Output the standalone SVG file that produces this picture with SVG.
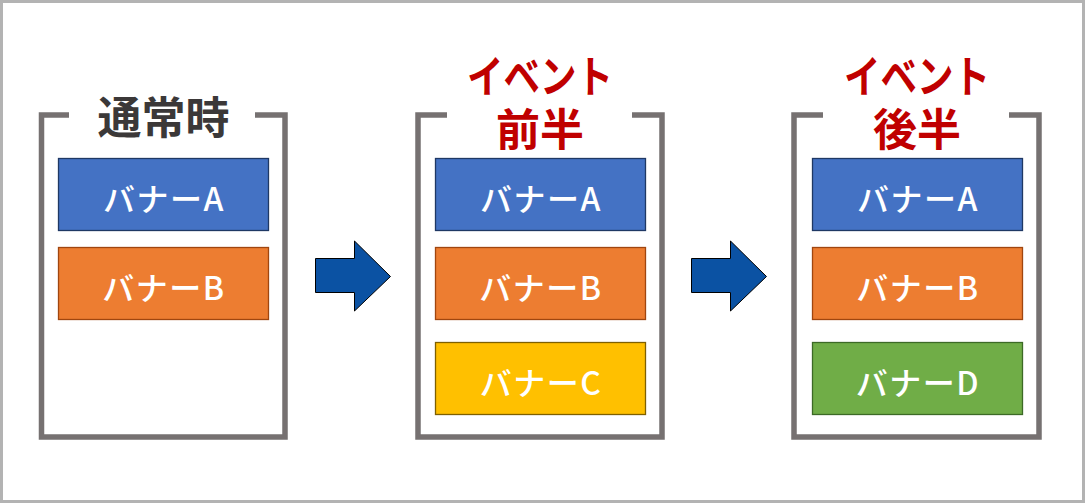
<svg xmlns="http://www.w3.org/2000/svg" width="1085" height="503" viewBox="0 0 1085 503">
<defs>
<style>
.frame{fill:#ffffff;stroke:#b3b3b3;stroke-width:3}
.bracket{fill:none;stroke:#767171;stroke-width:5.5;stroke-linejoin:miter;stroke-linecap:butt}
.banner{stroke-width:1.3}
.a{fill:#4472c4;stroke:#1f3864}
.b{fill:#ed7d31;stroke:#a0460f}
.c{fill:#ffc000;stroke:#7f6000}
.d{fill:#70ad47;stroke:#3c6a26}
.bt{font-family:"Noto Sans CJK JP","Noto Sans",sans-serif;font-size:32px;font-weight:500;letter-spacing:1.5px;fill:#ffffff;text-anchor:middle;dominant-baseline:central}
.title{font-family:"Noto Sans CJK JP","Noto Sans",sans-serif;font-size:44px;font-weight:bold;text-anchor:middle;dominant-baseline:central}
.gray{fill:#3b3838}
.red{fill:#c00000}
.arrow{fill:#0b52a3;stroke:#000000;stroke-width:1}
</style>
</defs>
<rect class="frame" x="1.5" y="1.5" width="1082" height="500"/>

<g id="node-normal">
<path class="bracket" d="M69,115 H41.5 V437 H285 V115 H255"/>
<text class="title gray" x="163.5" y="115">通常時</text>
<g id="normal-banner-a"><rect class="banner a" x="58.5" y="158.5" width="210" height="72"/><text class="bt" x="164" y="196.5">バナーA</text></g>
<g id="normal-banner-b"><rect class="banner b" x="58.5" y="247.5" width="210" height="72"/><text class="bt" x="164" y="285.5">バナーB</text></g>
</g>

<g id="node-event-first">
<path class="bracket" d="M447,115 H418 V437 H662 V115 H632"/>
<text class="title red"><tspan x="540" y="74" textLength="146" lengthAdjust="spacingAndGlyphs">イベント</tspan><tspan x="540" y="126.5">前半</tspan></text>
<g id="first-banner-a"><rect class="banner a" x="435.5" y="158.5" width="210" height="72"/><text class="bt" x="541" y="196.5">バナーA</text></g>
<g id="first-banner-b"><rect class="banner b" x="435.5" y="247.5" width="210" height="72"/><text class="bt" x="541" y="285.5">バナーB</text></g>
<g id="first-banner-c"><rect class="banner c" x="435.5" y="342.5" width="210" height="72"/><text class="bt" x="541" y="380.5">バナーC</text></g>
</g>

<g id="node-event-second">
<path class="bracket" d="M823,115 H794 V437 H1039 V115 H1009"/>
<text class="title red"><tspan x="917" y="74" textLength="146" lengthAdjust="spacingAndGlyphs">イベント</tspan><tspan x="917" y="126.5">後半</tspan></text>
<g id="second-banner-a"><rect class="banner a" x="812.5" y="158.5" width="210" height="72"/><text class="bt" x="918" y="196.5">バナーA</text></g>
<g id="second-banner-b"><rect class="banner b" x="812.5" y="247.5" width="210" height="72"/><text class="bt" x="918" y="285.5">バナーB</text></g>
<g id="second-banner-d"><rect class="banner d" x="812.5" y="342.5" width="210" height="72"/><text class="bt" x="918" y="380.5">バナーD</text></g>
</g>

<g id="connectors">
<path class="arrow" d="M315.5,258.5 H354.5 V241 L390.5,276.5 L354.5,311 V292.5 H315.5 Z"/>
<path class="arrow" d="M691.5,258.5 H730.5 V241 L766.5,276.5 L730.5,311 V292.5 H691.5 Z"/>
</g>
</svg>
